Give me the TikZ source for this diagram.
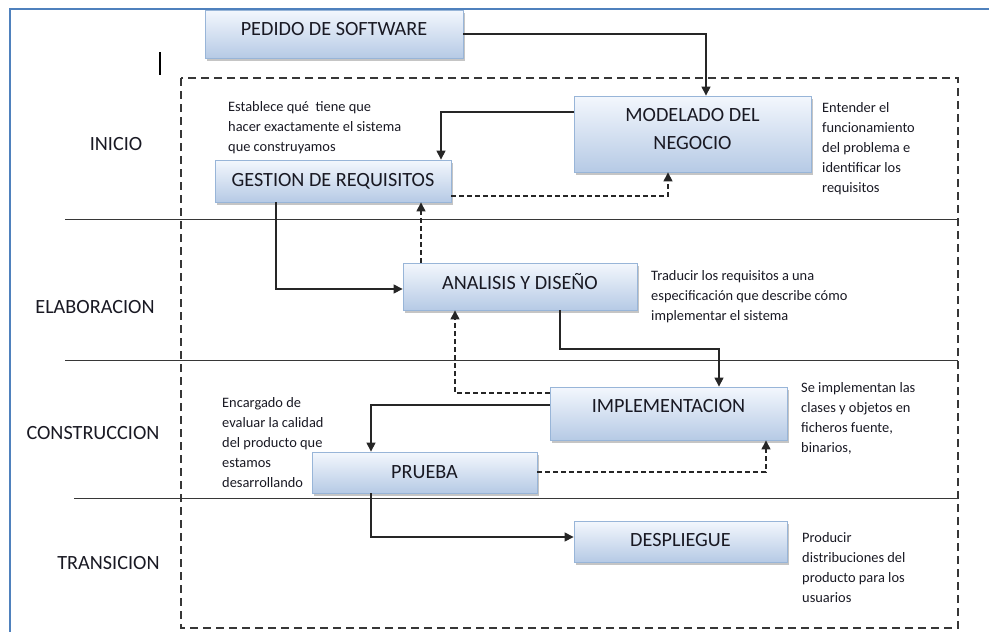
\documentclass[tikz,border=0pt]{standalone}
\usepackage{fontspec}
\setmainfont{Carlito}
\usetikzlibrary{arrows.meta,shadows}
\definecolor{frameblue}{RGB}{79,129,189}
\definecolor{boxtop}{RGB}{243,247,253}
\definecolor{boxbot}{RGB}{182,202,229}
\definecolor{boxline}{RGB}{152,181,216}
\definecolor{inkdark}{RGB}{25,25,35}
\definecolor{rulegray}{RGB}{55,55,55}
\begin{document}
\begin{tikzpicture}[x=1pt,y=-1pt,
  stagebox/.style={draw=boxline, line width=0.8pt, top color=boxtop, bottom color=boxbot,
    drop shadow={shadow xshift=2pt,shadow yshift=-3pt,fill=black!45,opacity=0.5},
    inner sep=0pt, font=\fontsize{20.2}{27.3}\selectfont, text=inkdark},
  oneline/.style={text height=13pt},
  phase/.style={font=\fontsize{20.2}{24}\selectfont, text=inkdark, inner sep=0pt},
  note/.style={anchor=north west, align=left, inner sep=0pt,
    font=\fontsize{14.4}{20}\selectfont, text=inkdark},
  flow/.style={line width=1.1pt, draw=black!85, -{Triangle[length=9pt,width=9pt]}},
  backflow/.style={flow, dash pattern=on 5pt off 3pt},
  sep/.style={line width=1pt, draw=rulegray}]
\useasboundingbox (0,0) rectangle (989,632);

% page frame
\draw[frameblue, line width=2pt] (10,632) -- (10,9) -- (989,9);
% text cursor mark
\draw[line width=1.8pt, black] (160,52) -- (160,75);

% process area and phase separators
\draw[rulegray, line width=1.1pt, dash pattern=on 8pt off 5pt] (181,78) rectangle (958,628);
\draw[sep] (65,219) -- (958,219);
\draw[sep] (65,360) -- (958,360);
\draw[sep] (74,498) -- (958,498);

% phases
\node[phase] (pini) at (116,144) {INICIO};
\node[phase] (pela) at (95,307) {ELABORACION};
\node[phase] (pcon) at (93,433) {CONSTRUCCION};
\node[phase] (ptra) at (108.5,563) {TRANSICION};

% workflows
\node[stagebox, oneline, minimum width=258pt, minimum height=48pt, text depth=10pt] (ped) at (334,34) {PEDIDO DE SOFTWARE};
\node[stagebox, align=center, minimum width=237pt, minimum height=76pt] (mod) at (692.5,134) {MODELADO DEL\\NEGOCIO\rule[-10pt]{0pt}{10pt}};
\node[stagebox, oneline, minimum width=236pt, minimum height=42pt, text depth=3pt] (ges) at (333,181) {GESTION DE REQUISITOS};
\node[stagebox, oneline, minimum width=234pt, minimum height=47pt, text depth=7.6pt] (ana) at (520,286.5) {ANALISIS Y DISEÑO};
\node[stagebox, oneline, minimum width=237pt, minimum height=53pt, text depth=16pt] (imp) at (668.5,413.5) {IMPLEMENTACION};
\node[stagebox, oneline, minimum width=225pt, minimum height=41pt, text depth=2pt] (pru) at (424.5,472.5) {PRUEBA};
\node[stagebox, oneline, minimum width=213pt, minimum height=41pt, text depth=3pt] (des) at (680.5,541.5) {DESPLIEGUE};

% descriptions
\node[note] (nges) at (228,97) {\strut Establece qué\ \ tiene que\\hacer exactamente el sistema\\que construyamos};
\node[note] (nmod) at (822,98) {\strut Entender el\\funcionamiento\\del problema e\\identificar los\\requisitos};
\node[note] (nana) at (651,266) {\strut Traducir los requisitos a una\\especificación que describe cómo\\implementar el sistema};
\node[note] (nimp) at (801,378) {\strut Se implementan las\\clases y objetos en\\ficheros fuente,\\binarios,};
\node[note] (npru) at (222,393) {\strut Encargado de\\evaluar la calidad\\del producto que\\estamos\\desarrollando};
\node[note] (ndes) at (802,528) {\strut Producir\\distribuciones del\\producto para los\\usuarios};

% bend points of the connectors
\coordinate (k1) at (706,0);
\coordinate (k2) at (441,112);
\coordinate (k3) at (668,196);
\coordinate (k4) at (276,289);
\coordinate (k5) at (421,0);
\coordinate (k6) at (560,349);
\coordinate (k7) at (719,349);
\coordinate (k8) at (455,393);
\coordinate (k9) at (371,405);
\coordinate (k10) at (766,472);
\coordinate (k11) at (371,537);

% forward flow
\draw[flow] (ped.east) -| (mod.north -| k1);
\draw[flow] (mod.west |- k2) -| (ges.north -| k2);
\draw[flow] (ges.south -| k4) |- (ana.west |- k4);
\draw[flow] (ana.south -| k6) -- (k6) -| (imp.north -| k7);
\draw[flow] (imp.west |- k9) -| (pru.north -| k9);
\draw[flow] (pru.south -| k11) |- (des.west |- k11);

% feedback
\draw[backflow] (ges.east |- k3) -| (mod.south -| k3);
\draw[backflow] (ana.north -| k5) -- (ges.south -| k5);
\draw[backflow] (imp.west |- k8) -| (ana.south -| k8);
\draw[backflow] (pru.east |- k10) -| (imp.south -| k10);
\end{tikzpicture}
\end{document}
